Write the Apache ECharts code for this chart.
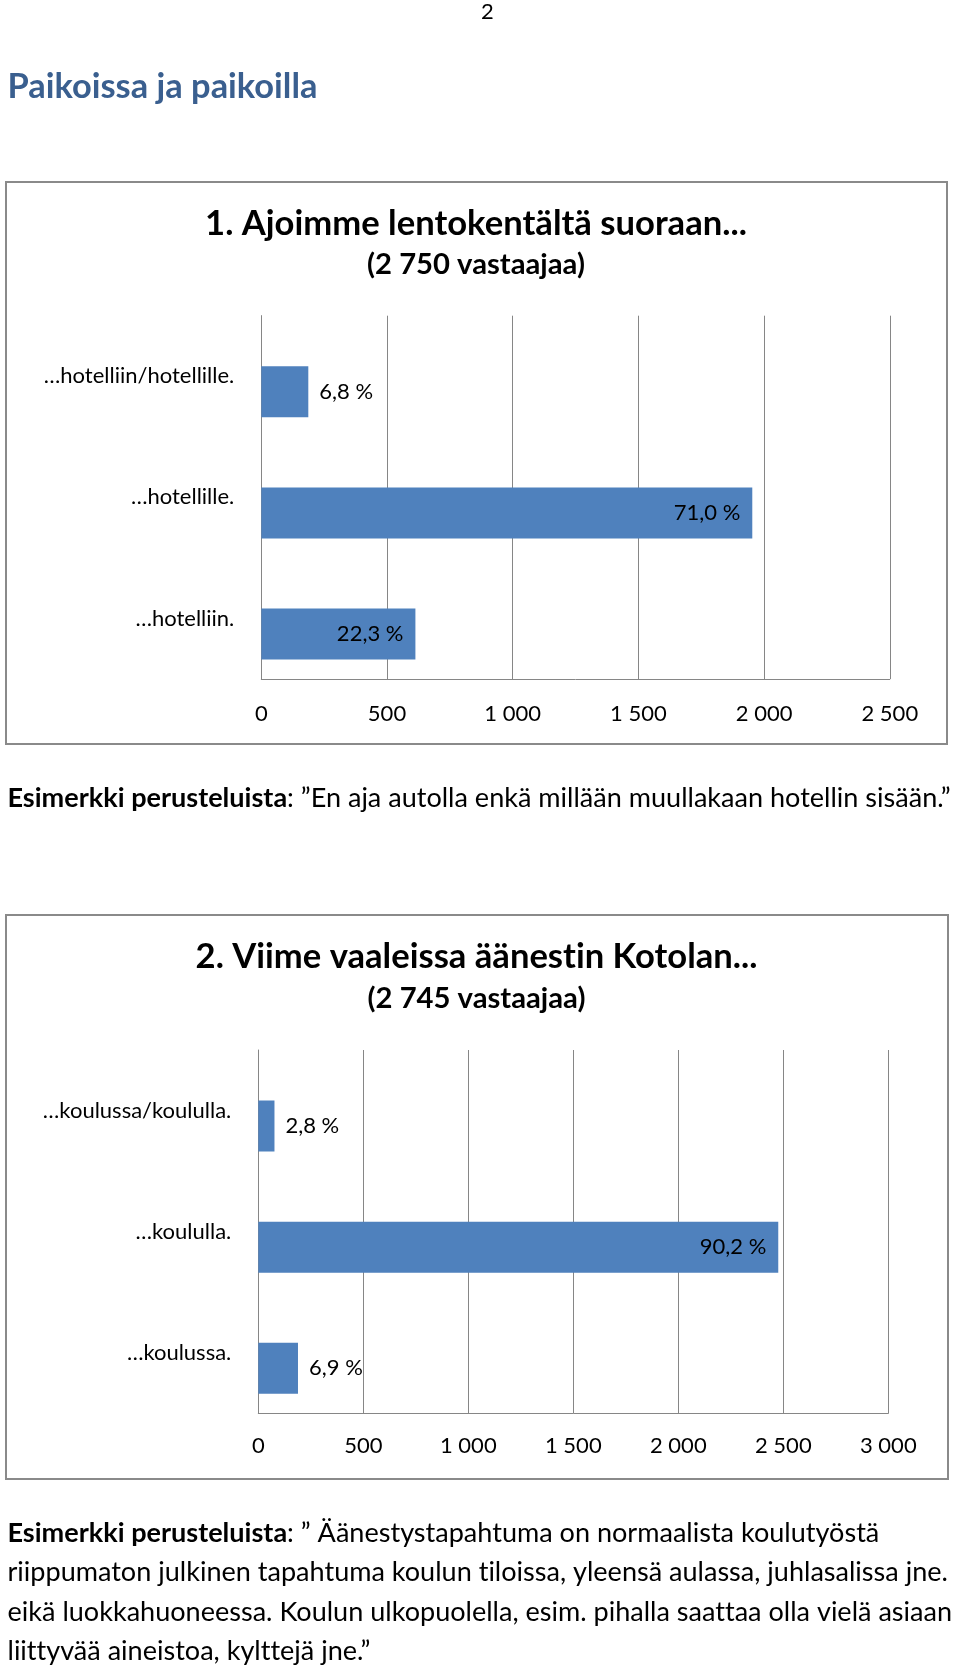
<!DOCTYPE html>
<html><head><meta charset="utf-8">
<script src="https://cdn.jsdelivr.net/npm/echarts@6/dist/echarts.min.js"></script>
<style>
html,body{margin:0;padding:0;background:#fff}
#c{width:960px;height:1673px}
</style>
</head><body><div id="c"></div>
<script>
// ---- data ----
const pageNumber = '2';
const pageTitle = 'Paikoissa ja paikoilla';

const title1 = '1. Ajoimme lentokentältä suoraan...';
const subtitle1 = '(2 750 vastaajaa)';
const categories1 = ['…hotelliin/hotellille.', '…hotellille.', '…hotelliin.'];
const counts1 = [187, 1953, 613];
const percents1 = [6.8, 71.0, 22.3];
const ticks1 = ['0', '500', '1 000', '1 500', '2 000', '2 500'];

const title2 = '2. Viime vaaleissa äänestin Kotolan...';
const subtitle2 = '(2 745 vastaajaa)';
const categories2 = ['…koulussa/koululla.', '…koululla.', '…koulussa.'];
const counts2 = [77, 2476, 189];
const percents2 = [2.8, 90.2, 6.9];
const ticks2 = ['0', '500', '1 000', '1 500', '2 000', '2 500', '3 000'];

const boldLead = 'Esimerkki perusteluista';
const note1 = ': ”En aja autolla enkä millään muullakaan hotellin sisään.”';
const note2Lines = [
  ': ” Äänestystapahtuma on normaalista koulutyöstä',
  'riippumaton julkinen tapahtuma koulun tiloissa, yleensä aulassa, juhlasalissa jne.',
  'eikä luokkahuoneessa. Koulun ulkopuolella, esim. pihalla saattaa olla vielä asiaan',
  'liittyvää aineistoa, kylttejä jne.”'
];

// ---- no typographic ligatures (Lato's "ti"/"tt") on canvas ----
(function () {
  const P = CanvasRenderingContext2D.prototype;
  const f = P.fillText, m = P.measureText;
  P.fillText = function () { if ('textRendering' in this) this.textRendering = 'optimizeSpeed'; return f.apply(this, arguments); };
  P.measureText = function () { if ('textRendering' in this) this.textRendering = 'optimizeSpeed'; return m.apply(this, arguments); };
})();

// ---- helpers ----
const FONT = 'Lato';
const ctx = document.createElement('canvas').getContext('2d');
function tw(text, weight, size) { ctx.font = weight + ' ' + size + 'px ' + FONT; return ctx.measureText(text).width; }
function fit(parts, target) {
  const total = parts.reduce((s, p) => s + tw(p[0], p[1], 100), 0);
  return 100 * target / total;
}
const fmtPct = v => v.toFixed(1).replace('.', ',') + ' %';

const BLUE = '#4F81BD';
const GRID = '#868686';

const pageTitleSize = fit([[pageTitle, 'bold']], 310);
const t1Size = fit([[title1, 'bold']], 542);
const t2Size = fit([[title2, 'bold']], 562);
const subSize = fit([[subtitle1, 'bold']], 218);
const paraSize = fit([[note2Lines[1], 'normal']], 941);

function textEl(text, x, y, size, weight, color, align) {
  return { type: 'text', x: x, y: y, silent: true,
    style: { text: text, font: weight + ' ' + size + 'px ' + FONT, fill: color || '#000',
      align: align || 'left', verticalAlign: 'middle' } };
}
function richEl(lead, rest, x, y, size) {
  return { type: 'text', x: x, y: y, silent: true,
    style: { text: '{b|' + lead + '}{r|' + rest + '}', verticalAlign: 'middle', align: 'left',
      rich: { b: { fontFamily: FONT, fontWeight: 'bold', fontSize: size, fill: '#000' },
              r: { fontFamily: FONT, fontWeight: 'normal', fontSize: size, fill: '#000' } } } };
}

function barSeries(idx, counts, pcts, max) {
  return [
    { type: 'bar', name: 'osuus', xAxisIndex: idx, yAxisIndex: idx, data: pcts,
      barWidth: 51, barGap: '-39%', silent: true,
      itemStyle: { color: 'rgba(0,0,0,0)' }, label: { show: false } },
    { type: 'bar', name: 'vastaajia', xAxisIndex: idx, yAxisIndex: idx,
      barWidth: 51, barGap: '-39%',
      data: counts.map((v, i) => ({ value: v,
        label: v > max * 0.2 ? { position: 'insideRight', distance: 12 } : { position: 'right', distance: 11 } })),
      itemStyle: { color: BLUE },
      label: { show: true, fontFamily: FONT, fontSize: 22, color: '#000',
        formatter: p => fmtPct(pcts[p.dataIndex]) } }
  ];
}
function xAx(idx, ticks, margin) {
  const step = 500;
  return { type: 'value', gridIndex: idx, min: 0, max: step * (ticks.length - 1), interval: step,
    axisLine: { show: true, lineStyle: { color: GRID, width: 1 } }, axisTick: { show: false },
    splitLine: { show: true, lineStyle: { color: GRID, width: 1 } },
    axisLabel: { fontFamily: FONT, fontSize: 22, color: '#000', margin: margin,
      formatter: v => ticks[Math.round(v / step)] } };
}
function yAx(idx, cats) {
  return { type: 'category', gridIndex: idx, data: cats, inverse: true,
    axisLine: { show: true, lineStyle: { color: GRID, width: 1 } }, axisTick: { show: false },
    axisLabel: { fontFamily: FONT, fontSize: 22, color: '#000', margin: 27 } };
}

const chart = echarts.init(document.getElementById('c'), null, { renderer: 'canvas' });
chart.setOption({
  backgroundColor: '#fff',
  animation: false,
  grid: [
    { left: 261.3, top: 315.7, width: 628.5, height: 363.3 },
    { left: 258.3, top: 1050, width: 630, height: 363.3 }
  ],
  xAxis: [xAx(0, ticks1, 24), xAx(1, ticks2, 22)],
  yAxis: [yAx(0, categories1), yAx(1, categories2)],
  series: barSeries(0, counts1, percents1, 2500).concat(barSeries(1, counts2, percents2, 3000)),
  graphic: [
    { type: 'rect', silent: true, shape: { x: 6, y: 182, width: 941, height: 562 },
      style: { fill: 'none', stroke: '#8a8a8a', lineWidth: 2 } },
    { type: 'rect', silent: true, shape: { x: 6, y: 915, width: 942, height: 564 },
      style: { fill: 'none', stroke: '#8a8a8a', lineWidth: 2 } },
    textEl(pageNumber, 487.5, 12, 22, 'normal', '#000', 'center'),
    textEl(pageTitle, 7.5, 87, pageTitleSize, 'bold', '#3A5F8F', 'left'),
    textEl(title1, 476, 223.5, t1Size, 'bold', '#000', 'center'),
    textEl(subtitle1, 476, 264.5, subSize, 'bold', '#000', 'center'),
    textEl(title2, 476.5, 956.5, t2Size, 'bold', '#000', 'center'),
    textEl(subtitle2, 476.5, 998.4, subSize, 'bold', '#000', 'center'),
    richEl(boldLead, note1, 7.5, 798, paraSize),
    richEl(boldLead, note2Lines[0], 7.5, 1533, paraSize),
    textEl(note2Lines[1], 7.5, 1572.3, paraSize, 'normal', '#000', 'left'),
    textEl(note2Lines[2], 7.5, 1611.8, paraSize, 'normal', '#000', 'left'),
    textEl(note2Lines[3], 7.5, 1651.2, paraSize, 'normal', '#000', 'left')
  ]
});
</script></body></html>
